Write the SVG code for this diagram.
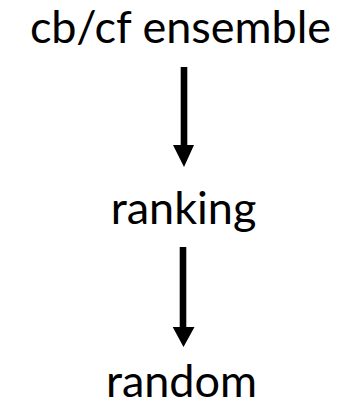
<svg xmlns="http://www.w3.org/2000/svg" width="360" height="409" viewBox="0 0 360 409">
<style>
text{font-family:Lato,"Open Sans","Liberation Sans",sans-serif;font-size:45px;fill:#000;text-anchor:middle}
.shaft{fill:#000}
</style>
<rect width="360" height="409" fill="#fff"/>
<g id="n1"><text x="180.5" y="43">cb/cf ensemble</text></g>
<g id="n2"><text x="183.5" y="224">ranking</text></g>
<g id="n3"><text x="181.5" y="397">random</text></g>
<g id="connectors">
<path class="shaft" d="M180.7 67H187.3V145H194L184 167L173 145H180.7Z"/>
<path class="shaft" d="M179.7 247H186.3V327H194.5L183.5 347L172.7 327H179.7Z"/>
</g>
</svg>
